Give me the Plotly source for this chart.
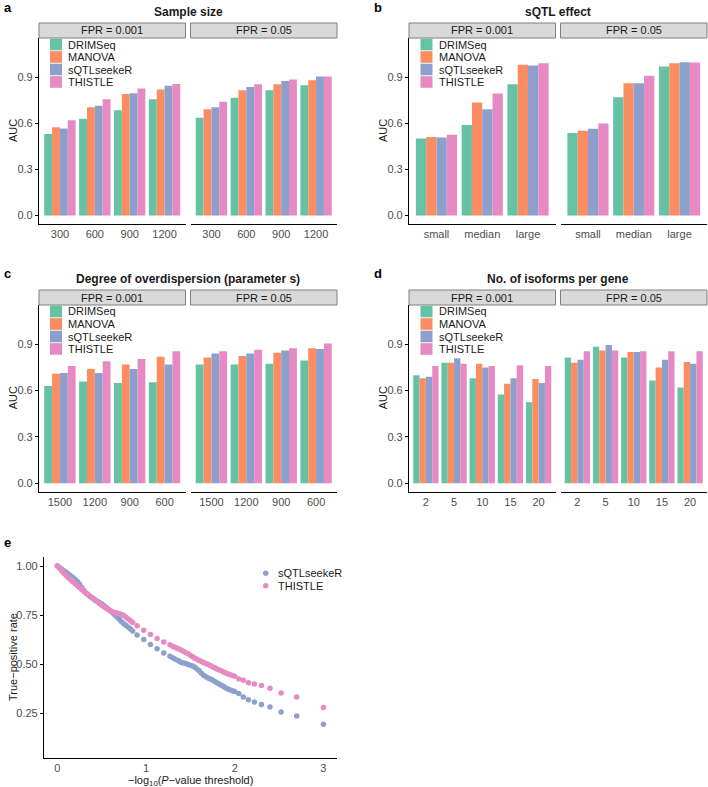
import plotly.graph_objects as go

W, H = 708, 787

methods = ["DRIMSeq", "MANOVA", "sQTLseekeR", "THISTLE"]
set2 = ["#66C2A5", "#FC8D62", "#8DA0CB", "#E78AC3"]
fpr_labels = ["FPR = 0.001", "FPR = 0.05"]

# a - sample size  (rows: DRIMSeq, MANOVA, sQTLseekeR, THISTLE)
size_cats = ["300", "600", "900", "1200"]
size_auc_001 = [[0.530, 0.630, 0.685, 0.757],
                [0.575, 0.705, 0.790, 0.820],
                [0.567, 0.715, 0.795, 0.845],
                [0.620, 0.757, 0.826, 0.855]]
size_auc_05 = [[0.637, 0.767, 0.815, 0.848],
               [0.691, 0.815, 0.854, 0.880],
               [0.704, 0.837, 0.876, 0.904],
               [0.741, 0.854, 0.885, 0.904]]

# b - sQTL effect
effect_cats = ["small", "median", "large"]
effect_auc_001 = [[0.502, 0.589, 0.854],
                  [0.511, 0.735, 0.981],
                  [0.507, 0.691, 0.976],
                  [0.526, 0.794, 0.991]]
effect_auc_05 = [[0.537, 0.770, 0.970],
                 [0.552, 0.861, 0.991],
                 [0.565, 0.861, 0.998],
                 [0.598, 0.909, 0.996]]

# c - overdispersion
disp_cats = ["1500", "1200", "900", "600"]
disp_auc_001 = [[0.630, 0.660, 0.650, 0.655],
                [0.710, 0.740, 0.770, 0.820],
                [0.715, 0.715, 0.740, 0.770],
                [0.760, 0.790, 0.805, 0.855]]
disp_auc_05 = [[0.770, 0.770, 0.775, 0.795],
               [0.815, 0.825, 0.845, 0.875],
               [0.840, 0.840, 0.860, 0.870],
               [0.855, 0.865, 0.875, 0.905]]

# d - isoforms per gene
iso_cats = ["2", "5", "10", "15", "20"]
iso_auc_001 = [[0.700, 0.780, 0.680, 0.575, 0.525],
               [0.680, 0.780, 0.775, 0.645, 0.675],
               [0.690, 0.810, 0.750, 0.680, 0.650],
               [0.760, 0.775, 0.760, 0.765, 0.760]]
iso_auc_05 = [[0.815, 0.885, 0.815, 0.665, 0.620],
              [0.780, 0.860, 0.850, 0.750, 0.785],
              [0.800, 0.895, 0.850, 0.800, 0.775],
              [0.855, 0.860, 0.855, 0.855, 0.855]]

# e - TPR vs -log10(P-value threshold)
neglog_thr = [0.000, 0.025, 0.050, 0.075, 0.100, 0.125, 0.150, 0.175, 0.200, 0.225,
              0.250, 0.275, 0.300, 0.325, 0.350, 0.375, 0.400, 0.425, 0.450, 0.475,
              0.500, 0.525, 0.550, 0.575, 0.600, 0.625, 0.650, 0.675, 0.700, 0.725,
              0.750, 0.775, 0.800, 0.825, 0.850,
              0.900, 0.975, 1.050, 1.125, 1.200, 1.270,
              1.300, 1.325, 1.350, 1.375, 1.400, 1.425, 1.450, 1.475, 1.500, 1.525,
              1.550, 1.575, 1.600, 1.625, 1.650, 1.675, 1.700, 1.725, 1.750, 1.775,
              1.800, 1.825, 1.850, 1.875, 1.900, 1.925, 1.950, 1.975, 2.000,
              2.046, 2.097, 2.155, 2.222, 2.301, 2.398, 2.523, 2.699, 3.000]
tpr_sqtlseeker = [1.000, 0.992, 0.983, 0.976, 0.968, 0.959, 0.950, 0.942, 0.932, 0.921,
                  0.908, 0.890, 0.875, 0.862, 0.852, 0.843, 0.835, 0.827, 0.820, 0.814,
                  0.808, 0.799, 0.790, 0.780, 0.770, 0.760, 0.750, 0.739, 0.728, 0.716,
                  0.705, 0.697, 0.688, 0.678, 0.668,
                  0.648, 0.625, 0.600, 0.578, 0.556, 0.540,
                  0.532, 0.526, 0.520, 0.514, 0.508, 0.505, 0.502, 0.498, 0.494, 0.490,
                  0.484, 0.475, 0.465, 0.453, 0.443, 0.435, 0.428, 0.423, 0.418, 0.411,
                  0.405, 0.398, 0.392, 0.385, 0.378, 0.373, 0.368, 0.364, 0.360,
                  0.349, 0.332, 0.318, 0.306, 0.294, 0.281, 0.255, 0.235, 0.192]
tpr_thistle = [1.000, 0.988, 0.975, 0.962, 0.950, 0.940, 0.930, 0.920, 0.910, 0.900,
               0.890, 0.880, 0.870, 0.861, 0.852, 0.843, 0.835, 0.826, 0.818, 0.809,
               0.800, 0.792, 0.785, 0.778, 0.772, 0.767, 0.762, 0.760, 0.757, 0.753,
               0.748, 0.739, 0.730, 0.721, 0.712,
               0.695, 0.672, 0.650, 0.630, 0.612, 0.598,
               0.590, 0.585, 0.580, 0.575, 0.570, 0.564, 0.558, 0.552, 0.545, 0.537,
               0.530, 0.524, 0.518, 0.513, 0.508, 0.503, 0.498, 0.492, 0.486, 0.481,
               0.475, 0.470, 0.465, 0.459, 0.454, 0.449, 0.445, 0.441, 0.437,
               0.424, 0.417, 0.405, 0.398, 0.390, 0.376, 0.352, 0.332, 0.278]

FONT = "Liberation Sans, Arial, sans-serif"
TXT = "#4D4D4D"


def px(x):
    return x / W


def py(y):
    return 1 - y / H


fig = go.Figure()
layout = {}
shapes = []
annotations = []


def txt(x, y, text, size=11, color="#1A1A1A", xanchor="center", bold=False, angle=0):
    if bold:
        text = "<b>" + text + "</b>"
    annotations.append(dict(x=px(x), y=py(y), xref="paper", yref="paper", text=text,
                            showarrow=False, xanchor=xanchor, yanchor="middle",
                            textangle=angle, font=dict(family=FONT, size=size, color=color)))


ax_n = [0]


def bar_facet(x0, x1, y0, y1, cats, vals, first):
    ax_n[0] += 1
    n = ax_n[0]
    xa, ya = "x%d" % n, "y%d" % n
    for i, m in enumerate(methods):
        fig.add_trace(go.Bar(x=cats, y=vals[i], name=m, marker_color=set2[i],
                             marker_line_width=0, showlegend=False,
                             xaxis=xa, yaxis=ya))
    layout["xaxis%d" % n] = dict(domain=[px(x0), px(x1)], anchor=ya, type="category",
                                 range=[-0.6, len(cats) - 0.4], showline=True,
                                 linecolor="black", linewidth=1.2, ticks="",
                                 showgrid=False, zeroline=False,
                                 tickfont=dict(family=FONT, size=11, color=TXT))
    layout["yaxis%d" % n] = dict(domain=[py(y1), py(y0)], anchor=xa,
                                 range=[-0.055, 1.155], tickvals=[0, 0.3, 0.6, 0.9],
                                 ticktext=["0.0", "0.3", "0.6", "0.9"],
                                 showline=first, linecolor="black", linewidth=1.2,
                                 ticks="outside" if first else "", ticklen=3,
                                 tickcolor="black", showticklabels=first,
                                 showgrid=False, zeroline=False,
                                 tickfont=dict(family=FONT, size=11, color=TXT))


def bar_panel(letter, title, lx, cats, v001, v05, left, top, bottom, key_x):
    facets = [(left, left + 146.5), (left + 151.5, left + 298)]
    for k, (x0, x1) in enumerate(facets):
        bar_facet(x0, x1, top, bottom, cats, [v001, v05][k], k == 0)
        shapes.append(dict(type="rect", xref="paper", yref="paper",
                           x0=px(x0), x1=px(x1), y0=py(top), y1=py(top - 15),
                           fillcolor="#D9D9D9", line=dict(color="#7F7F7F", width=1)))
        txt((x0 + x1) / 2, top - 7.5, fpr_labels[k], size=11)
    txt((left + left + 298) / 2, top - 26, title, size=12, bold=True)
    txt(lx, top - 31, letter, size=13, bold=True, xanchor="left", color="black")
    txt(left - 26, (top + bottom) / 2, "AUC", size=11, angle=-90)
    # legend keys
    for i, m in enumerate(methods):
        cy = top + 6.5 + i * 12.5
        shapes.append(dict(type="rect", xref="paper", yref="paper",
                           x0=px(key_x), x1=px(key_x + 12), y0=py(cy + 5.8), y1=py(cy - 5.8),
                           fillcolor=set2[i], line=dict(width=0)))
        txt(key_x + 16, cy, m, size=11, xanchor="left")


bar_panel("a", "Sample size", 2, size_cats, size_auc_001, size_auc_05, 39, 38, 224, 50)
bar_panel("b", "sQTL effect", 372, effect_cats, effect_auc_001, effect_auc_05, 409, 38, 224, 420.5)
bar_panel("c", "Degree of overdispersion (parameter s)", 2, disp_cats, disp_auc_001,
          disp_auc_05, 39, 305, 491.7, 50)
bar_panel("d", "No. of isoforms per gene", 372, iso_cats, iso_auc_001, iso_auc_05,
          409, 305, 491.7, 420.5)

fig.update_layout(barmode="group", bargap=0.1, bargroupgap=0)

# panel e
ax_n[0] += 1
n = ax_n[0]
for name, tpr, col in [("sQTLseekeR", tpr_sqtlseeker, set2[2]), ("THISTLE", tpr_thistle, set2[3])]:
    fig.add_trace(go.Scatter(x=neglog_thr, y=tpr, mode="markers", name=name,
                             marker=dict(color=col, size=5.5, line=dict(width=0)),
                             showlegend=False, xaxis="x%d" % n, yaxis="y%d" % n))
layout["xaxis%d" % n] = dict(domain=[px(44), px(336.7)], anchor="y%d" % n,
                             range=[-0.15, 3.15], tickvals=[0, 1, 2, 3],
                             showline=True, linecolor="black", linewidth=1.2,
                             ticks="", showgrid=False, zeroline=False,
                             tickfont=dict(family=FONT, size=11, color=TXT))
layout["yaxis%d" % n] = dict(domain=[py(758), py(557)], anchor="x%d" % n,
                             range=[0.0204, 1.046], tickvals=[0.25, 0.5, 0.75, 1.0],
                             ticktext=["0.25", "0.50", "0.75", "1.00"],
                             showline=True, linecolor="black", linewidth=1.2,
                             ticks="outside", ticklen=3, tickcolor="black",
                             showgrid=False, zeroline=False,
                             tickfont=dict(family=FONT, size=11, color=TXT))
txt(2, 542, "e", size=13, bold=True, xanchor="left", color="black")
txt(13, 657, "True\u2212positive rate", size=11, angle=-90)
txt(190, 781, "\u2212log<sub>10</sub>(<i>P</i>\u2212value threshold)", size=11)
for i, (name, col) in enumerate([("sQTLseekeR", set2[2]), ("THISTLE", set2[3])]):
    cy = 573.3 + i * 12.4
    shapes.append(dict(type="circle", xref="paper", yref="paper",
                       x0=px(263), x1=px(268.5), y0=py(cy + 2.75), y1=py(cy - 2.75),
                       fillcolor=col, line=dict(width=0)))
    txt(276, cy, name, size=11, xanchor="left")

fig.update_layout(**layout)
fig.update_layout(width=W, height=H, margin=dict(l=0, r=0, t=0, b=0),
                  paper_bgcolor="white", plot_bgcolor="white",
                  shapes=shapes, annotations=annotations,
                  font=dict(family=FONT, size=11, color="#1A1A1A"))

# drop the default 8px page margin so the figure fills the window exactly
fig.write_html("out.html", config={"displayModeBar": False},
               post_script="document.body.style.margin='0';")
